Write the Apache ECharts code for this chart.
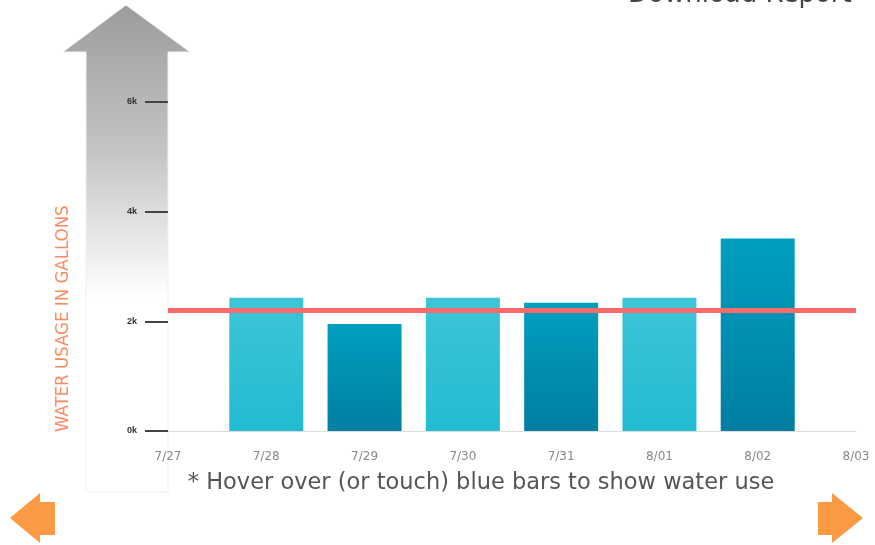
<!DOCTYPE html>
<html lang="en">
<head>
  <meta charset="UTF-8">
  <title>Water usage</title>
  <style>
    html, body { margin: 0; padding: 0; background: #fff; }
  </style>
</head>
<body>
  <div id="main" style="width: 875px;height:545px;"></div>

  <script src="https://cdn.jsdelivr.net/npm/echarts@6/dist/echarts.min.js"></script>
  <script>
    const myChart = echarts.init(document.getElementById('main'));

    // days on the x axis
    const days = ['7/27', '7/28', '7/29', '7/30', '7/31', '8/01', '8/02', '8/03'];
    // gallons used each day (7/27 and 8/03 have no bar)
    const usage = [null, 2430, 1950, 2430, 2340, 2430, 3510, null];
    // the red reference line
    const average = 2210;
    const yTicks = [0, 2000, 4000, 6000];

    const lightBar = new echarts.graphic.LinearGradient(0, 0, 0, 1, [
      { offset: 0, color: '#3dc4d7' },
      { offset: 1, color: '#22bcd2' }
    ]);
    const darkBar = new echarts.graphic.LinearGradient(0, 0, 0, 1, [
      { offset: 0, color: '#009fbf' },
      { offset: 1, color: '#007ea2' }
    ]);

    const options = {
      animation: false,
      grid: {
        left: 168,
        right: 19,
        top: 102,
        bottom: 114
      },
      graphic: [
        {
          // big gray arrow behind the y axis
          type: 'polygon',
          z: -10,
          shape: {
            points: [[126, 5], [190, 52], [168, 52], [168, 492], [86, 492], [86, 52], [63, 52]]
          },
          style: {
            fill: new echarts.graphic.LinearGradient(0, 0, 0, 1, [
              { offset: 0, color: '#9c9c9c' },
              { offset: 0.3, color: '#c4c4c4' },
              { offset: 0.6, color: '#ffffff' },
              { offset: 1, color: '#ffffff' }
            ]),
            stroke: '#f0f0f0',
            lineWidth: 1
          }
        },
        {
          // title cut off by the top edge
          type: 'text',
          x: 628,
          y: -18,
          style: {
            text: 'Download Report',
            font: '26px "DejaVu Sans"',
            fill: '#444'
          }
        },
        {
          type: 'text',
          x: 54,
          y: 432,
          rotation: Math.PI / 2,
          style: {
            text: 'WATER USAGE IN GALLONS',
            font: '18.5px "DejaVu Sans Condensed", "Liberation Sans", sans-serif',
            fill: '#ff8a5c',
            textAlign: 'left',
            textVerticalAlign: 'top'
          }
        },
        {
          type: 'text',
          x: 481,
          y: 483,
          style: {
            text: '* Hover over (or touch) blue bars to show water use',
            font: '22.5px "DejaVu Sans"',
            fill: '#555',
            textAlign: 'center',
            textVerticalAlign: 'middle'
          }
        },
        {
          type: 'polygon',
          shape: { points: [[10, 518], [40, 493], [40, 502], [55, 502], [55, 535], [40, 535], [40, 543]] },
          style: { fill: '#fb9a42' }
        },
        {
          type: 'polygon',
          shape: { points: [[863, 518], [832, 493], [832, 502], [818, 502], [818, 535], [832, 535], [832, 543]] },
          style: { fill: '#fb9a42' }
        }
      ],
      xAxis: {
        type: 'category',
        boundaryGap: false,
        data: days,
        axisLine: { lineStyle: { color: '#dddddd', width: 1 } },
        axisTick: { show: false },
        axisLabel: {
          color: '#888',
          fontSize: 12,
          fontFamily: 'DejaVu Sans',
          margin: 20
        },
        splitLine: { show: false }
      },
      yAxis: {
        type: 'value',
        min: 0,
        max: yTicks[yTicks.length - 1],
        interval: 2000,
        axisLine: { show: false },
        axisTick: { show: true, length: 23, lineStyle: { color: '#444', width: 2 } },
        axisLabel: {
          color: '#333',
          fontSize: 9,
          fontWeight: 'bold',
          margin: 31,
          formatter: function (v) { return (v / 1000) + 'k'; }
        },
        splitLine: { show: false }
      },
      series: [{
        type: 'bar',
        barWidth: 74,
        data: usage.map(function (v, i) {
          return { value: v, itemStyle: { color: i % 2 === 1 ? lightBar : darkBar } };
        }),
        markLine: {
          silent: true,
          symbol: 'none',
          label: { show: false },
          lineStyle: { color: '#f96a6a', width: 5, type: 'solid' },
          data: [{ yAxis: average }]
        }
      }]
    };

    myChart.setOption(options);
  </script>
</body>
</html>
